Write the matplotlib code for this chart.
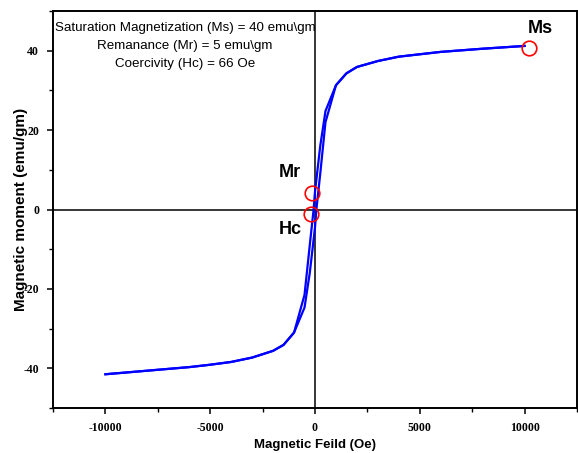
import matplotlib
matplotlib.use('Agg')
import matplotlib.pyplot as plt
from matplotlib.ticker import MultipleLocator

# descending branch (coming down from +H)
field_down = [10000, 8000, 6000, 5000, 4000, 3000, 2000, 1500, 1000, 500, 250, 0, -66,
              -250, -500, -1000, -1500, -2000, -3000, -4000, -5000, -6000, -8000, -10000]
moment_down = [41.2, 40.5, 39.7, 39.1, 38.5, 37.4, 35.9, 34.3, 31.3, 24.8, 16.0, 4.5, 0.0,
               -9.0, -21.5, -31.0, -34.1, -35.6, -37.3, -38.4, -39.1, -39.7, -40.6, -41.5]

# ascending branch (coming up from -H)
field_up = [-10000, -8000, -6000, -5000, -4000, -3000, -2000, -1500, -1000, -500, -250, 0, 66,
            250, 500, 1000, 1500, 2000, 3000, 4000, 5000, 6000, 8000, 10000]
moment_up = [-41.5, -40.6, -39.7, -39.1, -38.4, -37.3, -35.6, -34.1, -31.0, -24.7, -16.0, -4.5, 0.0,
             9.0, 22.0, 31.3, 34.3, 35.9, 37.4, 38.5, 39.1, 39.7, 40.5, 41.2]

# marked points (Ms, Mr, Hc)
mark_names = ['Ms', 'Mr', 'Hc']
mark_field = [10190, -130, -177]
mark_moment = [40.8, 4.2, -1.1]
label_field = [10740, -1200, -1200]
label_moment = [45.5, 9.2, -5.0]

info_text = ('Saturation Magnetization (Ms) = 40 emu\\gm\n'
             'Remanance (Mr) = 5 emu\\gm\n'
             'Coercivity (Hc) = 66 Oe')

fig_width = 5.78
fig_height = 4.53
fig_dpi = 100

tick_font = 'Liberation Serif'
text_font = 'Liberation Sans'
matplotlib.rcParams['axes.unicode_minus'] = False

fig = plt.figure(figsize=(fig_width, fig_height), dpi=fig_dpi)
ax = fig.add_axes([53/578, 45/453, 524/578, 397/453])

ax.axhline(0, color='black', lw=1.1, zorder=1)
ax.axvline(0, color='black', lw=1.1, zorder=1)

ax.plot(field_down, moment_down, color='#0000ff', lw=1.6, zorder=2)
ax.plot(field_up, moment_up, color='#0000ff', lw=1.6, zorder=2)

ax.plot(mark_field, mark_moment, 'o', ms=10.5, mfc='none', mec='red', mew=1.2, zorder=3)
for name, hx, my in zip(mark_names, label_field, label_moment):
  ax.text(hx, my, name, ha='center', va='center', fontsize=13, fontweight='bold', family=text_font)

ax.text(0.252, 0.912, info_text, transform=ax.transAxes, ha='center', va='center',
        multialignment='center', fontsize=9.6, family=text_font, linespacing=1.62)

ax.set_xlim(-12500, 12500)
ax.set_ylim(-50, 50)
ax.xaxis.set_major_locator(MultipleLocator(5000))
ax.xaxis.set_minor_locator(MultipleLocator(2500))
ax.yaxis.set_major_locator(MultipleLocator(20))
ax.yaxis.set_minor_locator(MultipleLocator(10))

ax.tick_params(axis='both', which='major', direction='out', length=4, width=1.1, pad=6)
ax.tick_params(axis='both', which='minor', direction='out', length=3, width=1.0)
for lab in ax.get_xticklabels() + ax.get_yticklabels():
  lab.set_family(tick_font)
  lab.set_fontweight('bold')
  lab.set_fontsize(8.5)

[sp.set_linewidth(1.4) for sp in ax.spines.values()]

ax.set_xlabel('Magnetic Feild (Oe)', fontsize=9.5, fontweight='bold', family=text_font)
ax.set_ylabel('Magnetic moment (emu/gm)', fontsize=11, fontweight='bold', family=text_font)
ax.xaxis.set_label_coords(0.5, -0.077)
ax.yaxis.set_label_coords(-0.047, 0.5)

fig.savefig('out.png', dpi=fig_dpi)
